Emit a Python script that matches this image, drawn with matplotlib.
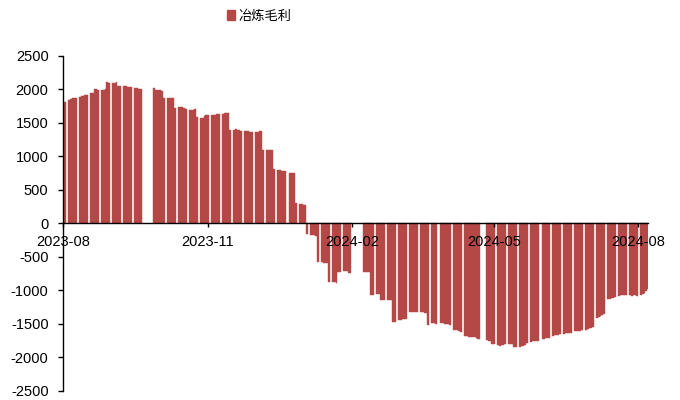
import matplotlib
matplotlib.use("Agg")
import matplotlib.pyplot as plt
import matplotlib.dates as mdates
import pandas as pd
import numpy as np
from matplotlib.patches import Patch

plt.rcParams["axes.unicode_minus"] = False
plt.rcParams["font.family"] = ["Liberation Sans", "DejaVu Sans"]

# ---- data -------------------------------------------------------------
series_name = "冶炼毛利"
first_day, last_day = "2023-08-10", "2024-08-16"
closed_days = ["2023-09-29", "2023-10-02", "2023-10-03", "2023-10-04", "2023-10-05",
               "2023-10-06", "2024-01-01", "2024-02-09", "2024-02-12", "2024-02-13",
               "2024-02-14", "2024-02-15", "2024-02-16", "2024-04-04", "2024-04-05",
               "2024-05-01", "2024-05-02", "2024-05-03", "2024-06-10"]
makeup_days = ["2023-10-07", "2023-10-08", "2024-02-18", "2024-04-07", "2024-04-28"]

margin = [
    1800, 1810,
    1840, 1850, 1865, 1870, 1875,
    1890, 1895, 1900, 1915, 1920,
    1940, 1945, 2010, 2005, 1995,
    1995, 1995, 2000, 2105, 2100,
    2095, 2095, 2115, 2050, 2045,
    2045, 2045, 2040, 2035, 2030,
    2020, 2015, 2010, 2005,
    2020, 1995,
    1985, 1985, 1985, 1980, 1870,
    1870, 1870, 1870, 1870, 1725,
    1740, 1735, 1730, 1720, 1710,
    1685, 1685, 1690, 1700, 1580,
    1570, 1575, 1600, 1610, 1615,
    1615, 1615, 1620, 1625, 1625,
    1635, 1640, 1640, 1645, 1390,
    1400, 1405, 1400, 1395, 1385,
    1375, 1375, 1375, 1370, 1365,
    1365, 1370, 1375, 1380, 1090,
    1090, 1090, 1095, 1090, 810,
    795, 790, 785, 780, 775,
    755, 750, 745, 310,
    290, 285, 280, 280, -155,
    -170, -175, -180, -185, -575,
    -580, -585, -585, -590, -870,
    -875, -880, -885, -725, -730,
    -710, -710, -715, -735,
    -725,
    -725, -725, -725, -1070, -1070,
    -1060, -1055, -1140, -1145, -1145,
    -1140, -1140, -1140, -1465, -1465,
    -1440, -1435, -1425, -1420, -1420,
    -1320, -1315, -1315, -1320, -1325,
    -1320, -1325, -1330, -1340, -1510,
    -1490, -1490, -1495,
    -1490,
    -1490, -1495, -1500, -1505, -1515,
    -1585, -1590, -1595, -1600, -1615,
    -1680, -1685, -1690, -1690, -1695,
    -1700,
    -1710, -1720,
    -1745, -1750, -1755, -1800, -1805,
    -1820, -1825, -1820, -1810, -1800,
    -1800, -1800, -1805, -1845, -1850,
    -1840, -1835, -1825, -1810, -1790,
    -1765, -1760, -1755, -1755, -1750,
    -1720, -1715, -1710, -1705,
    -1680, -1670, -1665, -1660, -1655,
    -1645, -1640, -1640, -1640, -1635,
    -1610, -1605, -1600, -1600, -1595,
    -1585, -1575, -1560, -1555, -1545,
    -1405, -1395, -1375, -1365, -1355,
    -1130, -1125, -1115, -1110, -1100,
    -1080, -1075, -1070, -1070, -1075,
    -1075, -1080, -1075, -1070, -1080,
    -1075, -1060, -1040, -1010, -985,
]

tick_dates = ["2023-08-10", "2023-11-10", "2024-02-10", "2024-05-10", "2024-08-10"]
tick_labels = ["2023-08", "2023-11", "2024-02", "2024-05", "2024-08"]
y_ticks = list(range(-2500, 2501, 500))

# ---- build dates -------------------------------------------------------
days = pd.bdate_range(first_day, last_day)
days = days.difference(pd.to_datetime(closed_days)).union(pd.to_datetime(makeup_days))
n = min(len(days), len(margin))
x = mdates.date2num(days[:n])
vals = np.array(margin[:n], dtype=float)

gap_before = np.r_[True, np.diff(x) > 1]
gap_after = np.r_[np.diff(x) > 1, True]
left = x - 0.5 - 0.5 * gap_before
right = x + 0.5 + 0.5 * gap_after

# ---- figure -------------------------------------------------------------
color = "#B44846"
fig = plt.figure(figsize=(6.8, 4.0), dpi=100)
ax = fig.add_axes([63 / 680, 9.0 / 400, 585.3 / 680, 335.2 / 400])

ax.bar(left, vals, width=right - left, align="edge", color=color,
       edgecolor=color, linewidth=0.3)

x0 = mdates.date2num(pd.Timestamp(first_day))
ax.set_xlim(x0, x0 + 372.35)
ax.set_ylim(-2500, 2500)

ax.set_xticks(mdates.date2num(pd.to_datetime(tick_dates)))
ax.set_xticklabels(tick_labels)
ax.set_yticks(y_ticks)
ax.set_yticklabels([str(v) for v in y_ticks])

for s in ["top", "right"]:
    ax.spines[s].set_visible(False)
ax.spines["bottom"].set_position(("data", 0))
ax.spines["bottom"].set_zorder(3)
for s in ["left", "bottom"]:
    ax.spines[s].set_color("black")
    ax.spines[s].set_linewidth(1.0)

ax.tick_params(axis="y", direction="out", length=3.4, width=1, pad=7, labelsize=10.5,
               colors="black")
ax.tick_params(axis="x", direction="out", length=3, width=1, pad=5, labelsize=10.5,
               colors="black")

fig.legend(handles=[Patch(facecolor=color, edgecolor=color)], labels=[series_name],
           loc="center", bbox_to_anchor=(259 / 680, 1 - 16 / 400), frameon=False,
           handlelength=0.6, handleheight=0.75, handletextpad=0.25,
           prop={"family": ["Noto Sans CJK SC", "DejaVu Sans"], "size": 9.5})

fig.savefig("out.png", dpi=100)
